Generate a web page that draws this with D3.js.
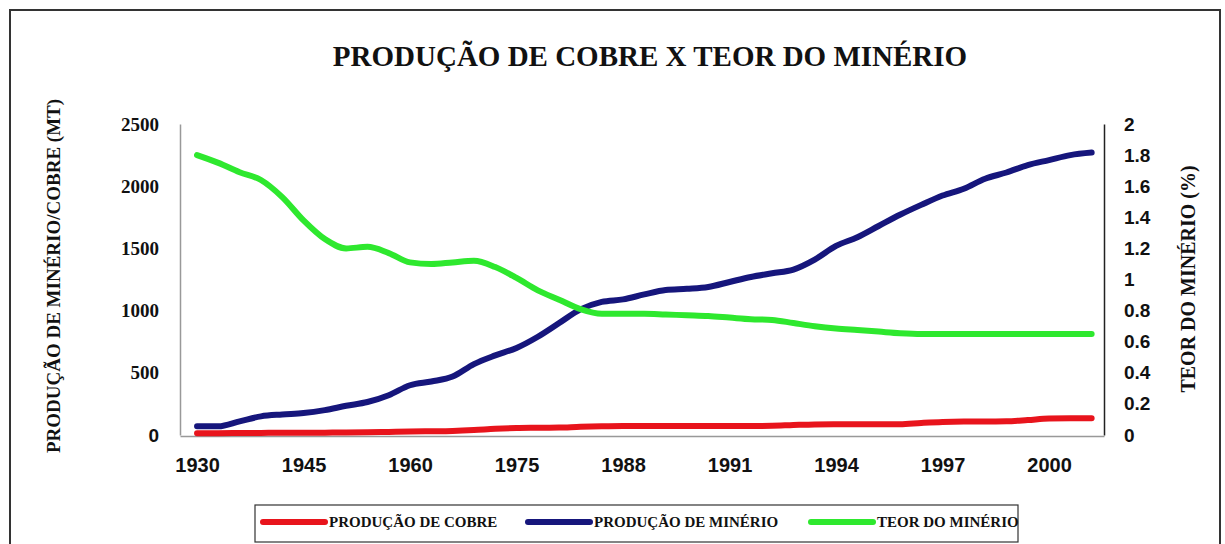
<!DOCTYPE html>
<html>
<head>
	<meta charset="utf-8">
	<title>Produção de cobre x teor do minério</title>
	<script type="text/javascript" src="https://cdn.jsdelivr.net/npm/d3@7"></script>
	<style type="text/css">
	     body{ margin:0; background:#fff; }
	</style>
</head>
<body>
<svg id="chart" width="1225" height="544"></svg>
<script type="text/javascript">
    // pontos da curva (um a cada 1/5 do intervalo entre rótulos)
    var rotulosX = ['1930','1945','1960','1975','1988','1991','1994','1997','2000'];
    var posRotulos = [0,5,10,15,20,25,30,35,40];
    var prodCobre = [15,15,16,17,18,18,19,20,22,25,28,30,33,40,50,56,58,60,66,70,72,72,72,72,72,72,72,74,80,85,86,86,86,87,97,105,108,108,110,120,132,134,134];
    var prodMinerio = [70,70,110,150,165,176,200,235,265,320,400,430,470,570,640,700,790,900,1010,1070,1090,1130,1165,1175,1190,1230,1270,1300,1330,1410,1520,1590,1680,1770,1850,1925,1980,2060,2110,2170,2210,2250,2270];
    var teor = [1.80,1.75,1.69,1.64,1.53,1.38,1.26,1.20,1.21,1.17,1.11,1.10,1.11,1.12,1.08,1.01,0.93,0.87,0.81,0.78,0.78,0.78,0.775,0.77,0.765,0.755,0.745,0.74,0.72,0.70,0.685,0.675,0.665,0.655,0.65,0.65,0.65,0.65,0.65,0.65,0.65,0.65,0.65];
    var ticksEsq = [0,500,1000,1500,2000,2500];
    var ticksDir = [0,0.2,0.4,0.6,0.8,1,1.2,1.4,1.6,1.8,2];
    var legenda = ['PRODUÇÃO DE COBRE','PRODUÇÃO DE MINÉRIO','TEOR DO MINÉRIO'];
    var cores = ['#e8141c','#16167c','#2ee82e'];

    var SERIF = '"Liberation Serif","Times New Roman",serif';
    var SANS = '"Liberation Sans",Arial,sans-serif';

    var svg = d3.select('#chart');

    // moldura externa
    svg.append('rect')
       .attr('x',10).attr('y',10).attr('width',1210).attr('height',545)
       .attr('fill','none').attr('stroke','#333').attr('stroke-width',2);

    svg.append('text')
       .attr('x',650).attr('y',66)
       .attr('text-anchor','middle')
       .style('font-family',SERIF).style('font-weight','bold')
       .style('font-size','29px').style('fill','#111')
       .text('PRODUÇÃO DE COBRE X TEOR DO MINÉRIO');

    var x = d3.scaleLinear().domain([-0.8,42.58]).range([180,1104]);
    var yEsq = d3.scaleLinear().domain([0,2500]).range([435,124]);
    var yDir = d3.scaleLinear().domain([0,2]).range([435,124]);

    // eixo x
    var gx = svg.append('g')
       .attr('transform','translate(0,436)')
       .call(d3.axisBottom(x).tickValues(posRotulos).tickSize(0).tickPadding(22)
             .tickFormat(function(d,i){ return rotulosX[i]; }));
    gx.select('.domain').attr('stroke','#999').attr('stroke-width',1.5);
    gx.selectAll('text')
       .style('font-family',SANS).style('font-weight','bold')
       .style('font-size','20px').style('fill','#111');

    // eixo esquerdo
    var gy = svg.append('g')
       .attr('transform','translate(180,0)')
       .call(d3.axisLeft(yEsq).tickValues(ticksEsq).tickSize(0).tickPadding(21)
             .tickFormat(d3.format('d')));
    gy.select('.domain').attr('stroke','#999').attr('stroke-width',1.5);
    gy.selectAll('text')
       .style('font-family',function(d){ return d===0 ? SANS : SERIF; })
       .style('font-weight','bold')
       .style('font-size','19px').style('fill','#111');

    // eixo direito
    var gy2 = svg.append('g')
       .attr('transform','translate(1104,0)')
       .call(d3.axisRight(yDir).tickValues(ticksDir).tickSize(0).tickPadding(20)
             .tickFormat(function(d){ return d3.format('~g')(d); }));
    gy2.select('.domain').attr('stroke','#222').attr('stroke-width',1.5);
    gy2.selectAll('text')
       .style('font-family',SANS).style('font-weight','bold')
       .style('font-size','19px').style('fill','#111');

    // títulos dos eixos
    svg.append('text')
       .attr('transform','translate(60,276) rotate(-90)')
       .attr('text-anchor','middle')
       .style('font-family',SERIF).style('font-weight','bold')
       .style('font-size','19px').style('fill','#111')
       .text('PRODUÇÃO DE MINÉRIO/COBRE (MT)');
    svg.append('text')
       .attr('transform','translate(1195,279) rotate(-90)')
       .attr('text-anchor','middle')
       .style('font-family',SERIF).style('font-weight','bold')
       .style('font-size','20px').style('fill','#111')
       .text('TEOR DO MINÉRIO (%)');

    // linhas
    var linhaEsq = d3.line()
       .x(function(d,i){ return x(i); })
       .y(function(d){ return yEsq(d); })
       .curve(d3.curveMonotoneX);
    var linhaDir = d3.line()
       .x(function(d,i){ return x(i); })
       .y(function(d){ return yDir(d); })
       .curve(d3.curveMonotoneX);

    var series = [
       {v:prodCobre, l:linhaEsq, c:cores[0]},
       {v:prodMinerio, l:linhaEsq, c:cores[1]},
       {v:teor, l:linhaDir, c:cores[2]}
    ];
    svg.selectAll('.serie')
       .data(series)
       .enter()
       .append('path')
       .attr('class','serie')
       .attr('fill','none')
       .attr('stroke',function(d){ return d.c; })
       .attr('stroke-width',6)
       .attr('stroke-linecap','round')
       .attr('stroke-linejoin','round')
       .attr('d',function(d){ return d.l(d.v); });

    // legenda
    svg.append('rect')
       .attr('x',255).attr('y',505).attr('width',763).attr('height',37)
       .attr('fill','#fff').attr('stroke','#333').attr('stroke-width',1.2);
    var posLeg = [263,528,811];
    var itens = svg.selectAll('.leg')
       .data(legenda)
       .enter()
       .append('g')
       .attr('class','leg')
       .attr('transform',function(d,i){ return 'translate(' + posLeg[i] + ',522)'; });
    itens.append('line')
       .attr('x1',0).attr('x2',62).attr('y1',0).attr('y2',0)
       .attr('stroke',function(d,i){ return cores[i]; })
       .attr('stroke-width',6)
       .attr('stroke-linecap','round');
    itens.append('text')
       .attr('x',66).attr('y',5)
       .style('font-family',SERIF).style('font-weight','bold')
       .style('font-size','15px').style('fill','#111')
       .text(function(d){ return d; });
</script>
</body>
</html>
